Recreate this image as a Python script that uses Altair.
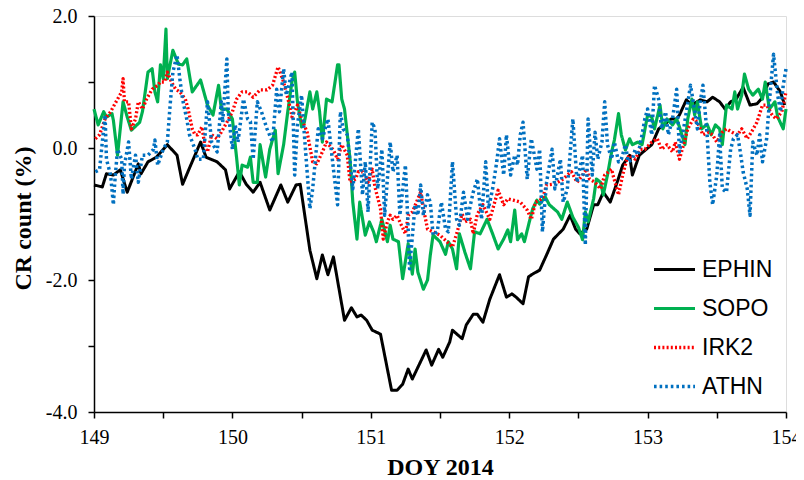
import altair as alt
import pandas as pd

SERIES = ["EPHIN", "SOPO", "IRK2", "ATHN"]
COLORS = ["#000000", "#00b050", "#ff0000", "#0070c0"]
DASHES = [[1, 0], [1, 0], [2, 2.2], [2.6, 3]]
WIDTHS = [3, 3.5, 2.2, 3]

EPHIN_DOY = [149.00,149.06,149.09,149.14,149.19,149.24,149.32,149.34,149.39,149.45,
             149.53,149.60,149.64,149.77,149.81,149.89,149.95,149.98,150.05,150.10,
             150.15,150.20,150.27,150.35,150.40,150.46,150.49,150.56,150.61,150.65,
             150.69,150.73,150.81,150.86,150.90,150.93,150.97,151.01,151.07,151.15,
             151.19,151.23,151.27,151.30,151.40,151.44,151.49,151.52,151.57,151.59,
             151.66,151.69,151.74,151.77,151.81,151.86,151.93,151.98,152.02,152.05,
             152.10,152.14,152.17,152.22,152.27,152.32,152.39,152.44,152.48,152.51,
             152.56,152.61,152.64,152.68,152.73,152.78,152.82,152.87,152.89,152.94,
             152.99,153.03,153.08,153.14,153.17,153.21,153.23,153.28,153.32,153.38,
             153.43,153.47,153.52,153.56,153.60,153.64,153.69,153.74,153.79,153.82,
             153.87,153.91,153.96,153.99]
EPHIN_VAL = [-0.56,-0.59,-0.39,-0.41,-0.33,-0.67,-0.24,-0.39,-0.21,-0.14,
             0.05,-0.11,-0.55,0.09,-0.14,-0.21,-0.33,-0.62,-0.36,-0.55,
             -0.67,-0.52,-0.94,-0.56,-0.82,-0.56,-0.55,-1.55,-1.98,-1.62,
             -1.92,-1.65,-2.61,-2.42,-2.56,-2.53,-2.61,-2.76,-2.82,-3.67,
             -3.67,-3.58,-3.35,-3.50,-3.06,-3.29,-3.05,-3.17,-2.94,-2.76,
             -2.89,-2.68,-2.52,-2.52,-2.64,-2.29,-1.92,-2.26,-2.21,-2.26,
             -2.36,-1.95,-1.91,-1.85,-1.62,-1.38,-1.23,-1.02,-1.23,-1.30,
             -1.23,-0.86,-0.86,-0.67,-0.82,-0.52,-0.26,-0.11,-0.41,-0.11,
             -0.02,0.05,0.29,0.39,0.44,0.44,0.50,0.73,0.65,0.73,
             0.70,0.77,0.70,0.59,0.70,0.74,0.92,0.65,0.67,0.74,
             0.97,1.00,0.85,0.65]

SOPO_DOY = [149.00,149.03,149.07,149.09,149.13,149.14,149.17,149.21,149.24,149.27,
            149.33,149.35,149.39,149.42,149.44,149.46,149.48,149.50,149.52,149.53,
            149.57,149.61,149.64,149.67,149.71,149.77,149.82,149.86,149.90,149.92,
            149.96,150.00,150.03,150.05,150.07,150.11,150.13,150.15,150.18,150.20,
            150.24,150.27,150.31,150.33,150.37,150.40,150.43,150.45,150.47,150.50,
            150.52,150.56,150.58,150.61,150.63,150.65,150.68,150.72,150.76,150.77,
            150.79,150.81,150.85,150.87,150.90,150.92,150.96,150.99,151.02,151.04,
            151.08,151.12,151.14,151.16,151.20,151.23,151.27,151.30,151.32,151.34,
            151.38,151.41,151.43,151.45,151.50,151.54,151.56,151.59,151.62,151.64,
            151.68,151.72,151.75,151.79,151.84,151.88,151.92,151.96,151.99,152.01,
            152.04,152.06,152.09,152.11,152.15,152.17,152.20,152.22,152.26,152.29,
            152.35,152.38,152.42,152.46,152.50,152.53,152.55,152.57,152.61,152.63,
            152.66,152.68,152.71,152.74,152.76,152.79,152.81,152.84,152.87,152.89,
            152.93,152.96,153.00,153.03,153.05,153.09,153.11,153.14,153.18,153.21,
            153.23,153.27,153.29,153.32,153.34,153.36,153.39,153.43,153.46,153.49,
            153.52,153.54,153.57,153.61,153.63,153.65,153.68,153.70,153.73,153.76,
            153.80,153.83,153.85,153.88,153.92,153.94,153.98,154.00]
SOPO_VAL = [0.59,0.35,0.55,0.47,0.52,0.42,-0.11,0.70,0.47,0.27,
            0.39,0.55,1.15,1.20,0.85,0.70,1.26,1.05,1.80,1.05,
            1.48,1.27,1.26,1.35,0.85,1.03,0.65,0.50,0.95,0.59,
            0.59,0.44,-0.14,-0.56,-0.26,-0.29,-0.14,-0.52,-0.52,0.05,
            -0.44,-0.02,0.27,-0.39,0.05,0.55,1.00,1.15,0.70,0.32,
            0.39,0.85,0.59,0.85,0.55,0.09,0.74,0.70,1.26,1.26,
            0.74,0.59,-0.17,-0.82,-1.38,-0.82,-1.32,-1.12,-1.27,-1.42,
            -1.08,-1.42,-1.17,-1.38,-1.42,-1.98,-1.45,-1.91,-1.53,-1.88,
            -2.14,-2.00,-1.62,-1.32,-1.42,-1.61,-1.42,-1.53,-1.83,-1.30,
            -1.58,-1.83,-1.27,-1.30,-1.08,-1.30,-1.53,-1.38,-1.24,-1.42,
            -0.94,-1.39,-1.30,-1.42,-1.08,-0.92,-0.79,-0.85,-0.74,-0.86,
            -0.97,-1.08,-0.82,-1.05,-1.20,-1.39,-0.97,-1.12,-0.77,-0.47,
            -0.52,-0.71,-0.41,-0.06,0.12,0.52,0.20,-0.03,0.14,0.05,
            0.09,0.05,0.50,0.47,0.29,0.65,0.29,0.44,0.35,0.44,
            0.32,0.05,0.44,0.74,0.50,0.70,0.29,0.36,0.20,0.35,
            0.29,0.05,0.65,0.59,0.85,0.59,0.80,1.12,0.89,0.80,
            0.89,0.74,1.00,0.59,0.70,0.47,0.29,0.59]

IRK2_DOY = [149.01,149.04,149.08,149.12,149.17,149.20,149.21,149.22,149.25,149.26,
            149.27,149.30,149.32,149.35,149.38,149.42,149.46,149.48,149.51,149.53,
            149.56,149.59,149.62,149.66,149.68,149.71,149.73,149.75,149.78,149.80,
            149.82,149.85,149.89,149.92,149.96,150.00,150.03,150.07,150.11,150.15,
            150.20,150.25,150.29,150.33,150.37,150.42,150.43,150.47,150.50,150.54,
            150.58,150.61,150.65,150.68,150.73,150.76,150.79,150.83,150.85,150.89,
            150.91,150.94,150.98,151.01,151.03,151.07,151.09,151.12,151.14,151.16,
            151.19,151.21,151.25,151.27,151.30,151.33,151.36,151.39,151.41,151.45,
            151.50,151.55,151.59,151.62,151.66,151.68,151.72,151.74,151.77,151.81,
            151.86,151.92,151.96,151.99,152.03,152.08,152.13,152.16,152.19,152.24,
            152.27,152.31,152.35,152.39,152.42,152.45,152.49,152.53,152.56,152.58,
            152.62,152.66,152.69,152.74,152.75,152.79,152.82,152.85,152.87,152.91,
            152.95,152.98,153.03,153.07,153.10,153.14,153.18,153.20,153.23,153.26,
            153.29,153.33,153.36,153.40,153.44,153.47,153.50,153.54,153.57,153.61,
            153.65,153.68,153.72,153.75,153.79,153.83,153.86,153.90,153.93,153.97,
            154.00]
IRK2_VAL = [0.14,0.20,0.44,0.55,0.74,0.85,1.05,0.70,0.70,0.50,
            0.29,0.44,0.70,0.59,0.74,0.89,0.95,1.00,1.00,1.15,
            1.00,0.89,0.85,0.74,0.59,0.29,0.20,0.20,0.32,0.05,
            -0.06,0.20,0.14,0.24,0.39,0.55,0.74,0.85,0.85,0.77,
            0.88,0.88,0.95,1.23,1.00,0.59,0.47,0.65,0.44,0.24,
            -0.21,-0.24,-0.06,0.09,-0.03,-0.17,0.05,-0.11,-0.52,-0.47,
            -0.36,-0.36,-0.52,-0.32,-0.59,-0.92,-1.38,-1.12,-1.02,-1.08,
            -1.02,-1.12,-1.30,-1.02,-0.97,-0.82,-0.67,-1.02,-1.23,-1.27,
            -1.32,-1.42,-1.50,-1.30,-1.00,-1.12,-1.08,-1.30,-1.00,-0.86,
            -1.08,-0.64,-0.86,-0.77,-0.79,-0.82,-0.94,-1.08,-0.82,-0.77,
            -0.56,-0.55,-0.52,-0.47,-0.41,-0.36,-0.52,-0.41,-0.32,-0.47,
            -0.52,-0.62,-0.41,-0.32,-0.41,-0.71,-0.41,-0.17,-0.11,-0.17,
            -0.02,-0.02,0.09,0.14,-0.02,0.05,-0.06,0.09,-0.17,0.05,
            0.29,0.44,0.39,0.20,0.24,0.20,0.09,0.24,0.29,0.24,
            0.20,0.29,0.14,0.24,0.39,0.65,0.65,0.50,0.44,0.55,
            0.85]

ATHN_DOY = [149.01,149.04,149.08,149.09,149.12,149.14,149.15,149.17,149.20,149.21,
            149.22,149.25,149.27,149.30,149.32,149.35,149.39,149.43,149.44,149.46,
            149.50,149.53,149.55,149.57,149.60,149.62,149.64,149.67,149.69,149.73,
            149.75,149.79,149.82,149.85,149.89,149.92,149.93,149.96,149.97,150.00,
            150.02,150.04,150.08,150.11,150.13,150.15,150.18,150.21,150.25,150.29,
            150.32,150.34,150.37,150.39,150.43,150.45,150.47,150.50,150.52,150.56,
            150.58,150.62,150.65,150.69,150.73,150.76,150.78,150.80,150.83,150.85,
            150.87,150.91,150.94,150.96,150.98,151.01,151.03,151.05,151.08,151.10,
            151.14,151.16,151.19,151.21,151.25,151.27,151.28,151.32,151.34,151.36,
            151.38,151.41,151.43,151.45,151.48,151.51,151.54,151.56,151.59,151.62,
            151.64,151.67,151.70,151.72,151.74,151.77,151.80,151.83,151.85,151.88,
            151.91,151.93,151.96,151.98,152.01,152.04,152.06,152.08,152.10,152.13,
            152.16,152.20,152.22,152.24,152.27,152.31,152.33,152.37,152.39,152.42,
            152.46,152.49,152.53,152.55,152.57,152.60,152.62,152.64,152.67,152.69,
            152.71,152.74,152.76,152.79,152.81,152.84,152.86,152.89,152.91,152.93,
            152.96,152.98,153.00,153.03,153.05,153.08,153.10,153.13,153.15,153.18,
            153.21,153.23,153.26,153.28,153.31,153.33,153.36,153.38,153.40,153.43,
            153.45,153.47,153.50,153.52,153.54,153.57,153.60,153.62,153.65,153.67,
            153.69,153.72,153.74,153.76,153.79,153.81,153.83,153.86,153.88,153.91,
            153.94,153.96,153.98,154.00]
ATHN_VAL = [-0.36,-0.33,0.50,-0.17,-0.41,-0.86,-0.52,-0.02,-0.17,-0.70,
            -0.26,0.09,-0.47,-0.11,-0.52,-0.11,-0.11,-0.02,0.12,-0.26,
            -0.02,0.09,0.65,1.15,1.41,1.05,0.74,0.44,0.20,-0.02,
            -0.17,-0.17,0.70,0.09,-0.06,0.70,0.39,1.35,0.55,-0.02,
            0.35,0.09,0.74,0.44,0.40,-0.17,0.70,0.55,0.29,0.09,
            0.89,0.55,1.20,0.80,1.15,-0.41,0.35,0.80,0.20,-0.92,
            -0.62,0.29,0.14,0.44,-0.32,-0.86,0.55,0.29,0.20,-0.21,
            -0.62,0.29,-0.71,-0.21,-0.97,0.39,0.29,-0.62,-0.02,-1.02,
            0.09,-0.36,-0.11,-1.02,-0.26,-1.23,-1.83,-0.86,-1.02,-0.56,
            -1.02,-0.71,-0.82,-1.32,-1.27,-0.82,-1.23,-1.27,-0.21,-1.08,
            -1.17,-0.67,-1.08,-0.86,-0.67,-0.47,-1.08,-0.21,-0.92,-0.62,
            -0.21,0.14,-0.41,0.20,-0.41,-0.11,-0.26,0.20,0.39,-0.47,
            0.14,-0.32,-0.02,-1.27,-0.52,-0.02,-0.62,-0.17,-0.82,-0.62,
            0.44,-0.52,-0.11,-1.47,0.44,-0.41,0.24,-0.17,0.09,0.70,
            0.05,-0.17,0.09,-0.21,-0.17,0.05,-0.21,-0.17,-0.02,-0.11,
            0.20,0.44,0.59,0.20,0.95,0.74,0.29,0.55,0.20,0.44,
            0.89,-0.06,0.29,0.55,0.95,0.70,0.29,0.70,0.95,0.20,
            -0.52,-0.86,-0.41,0.20,-0.62,-0.67,-0.02,0.14,0.20,-0.06,
            -0.36,-0.62,-1.02,0.09,-0.11,0.20,-0.21,0.14,0.70,1.42,
            0.80,0.55,0.95,1.20]

X_TICKS = [149, 149.5, 150, 150.5, 151, 151.5, 152, 152.5, 153, 153.5, 154]
Y_TICKS = [-4, -3, -2, -1, 0, 1, 2]

rows = []
for name, xs, ys in [("EPHIN", EPHIN_DOY, EPHIN_VAL), ("SOPO", SOPO_DOY, SOPO_VAL),
                     ("IRK2", IRK2_DOY, IRK2_VAL), ("ATHN", ATHN_DOY, ATHN_VAL)]:
    for x, y in zip(xs, ys):
        rows.append({"doy": x, "cr": y, "series": name})
df = pd.DataFrame(rows)

leg = alt.Legend(title=None, orient="none", legendX=558, legendY=234,
                 symbolType="stroke", symbolSize=1681, symbolStrokeWidth=3,
                 labelFont="Liberation Sans", labelFontSize=23, labelColor="#000000",
                 labelOffset=5, rowPadding=0, clipHeight=39, padding=0)

chart = alt.Chart(df).mark_line(strokeJoin="round").encode(
    x=alt.X("doy:Q", scale=alt.Scale(domain=[149, 154], nice=False, zero=False),
            axis=alt.Axis(values=X_TICKS, title="DOY 2014",
                          labelExpr="datum.value % 1 == 0 ? format(datum.value, 'd') : ''",
                          grid=False, tickSize=6, tickWidth=1.5, domainWidth=1.5,
                          domainColor="#000000", tickColor="#000000", labelColor="#000000",
                          labelFont="Liberation Serif", labelFontSize=20, labelPadding=9,
                          labelFlush=False, labelOverlap=False,
                          titleFont="Liberation Serif", titleFontSize=24, titleFontWeight="bold",
                          titleColor="#000000", titleY=62, titleBaseline="alphabetic")),
    y=alt.Y("cr:Q", scale=alt.Scale(domain=[-4, 2], nice=False, zero=False),
            axis=alt.Axis(values=Y_TICKS, title="CR count (%)",
                          labelExpr="datum.value % 2 == 0 ? (datum.value < 0 ? '-' : '') + format(abs(datum.value), '.1f') : ''",
                          grid=False, tickSize=6, tickWidth=1.5, domainWidth=1.5,
                          domainColor="#000000", tickColor="#000000", labelColor="#000000",
                          labelFont="Liberation Serif", labelFontSize=20, labelPadding=11,
                          labelOverlap=False,
                          titleFont="Liberation Serif", titleFontSize=24, titleFontWeight="bold",
                          titleColor="#000000", titleX=-64, titleY=202, titleAngle=270,
                          titleBaseline="alphabetic")),
    color=alt.Color("series:N", scale=alt.Scale(domain=SERIES, range=COLORS), legend=leg),
    strokeDash=alt.StrokeDash("series:N", scale=alt.Scale(domain=SERIES, range=DASHES), legend=leg),
    strokeWidth=alt.StrokeWidth("series:N", scale=alt.Scale(domain=SERIES, range=WIDTHS), legend=None),
).properties(
    width=692, height=396, autosize="none",
    padding={"left": 86, "top": 8, "right": 10, "bottom": 68},
).configure_view(stroke=None).configure(background="#ffffff")

chart.save("out.html", embed_options={"renderer": "svg", "actions": False})
